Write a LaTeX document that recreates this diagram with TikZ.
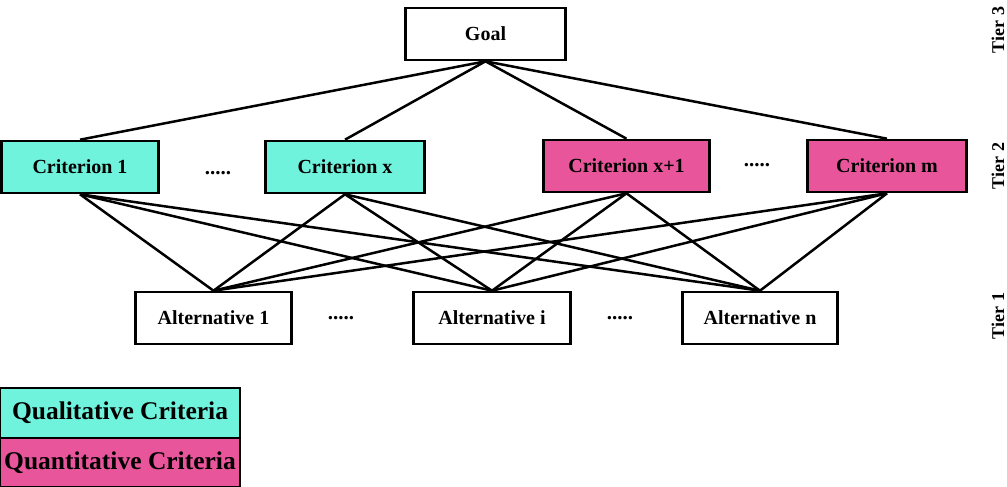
\documentclass[tikz,border=0pt]{standalone}
\usepackage{fontspec}
\setmainfont{Liberation Serif}
\definecolor{qual}{HTML}{70F3DC}
\definecolor{quant}{HTML}{E9559B}
\begin{document}
\begin{tikzpicture}[x=1pt,y=-1pt,
  box/.style={draw=black,line width=2.6pt,minimum height=52pt,inner sep=0pt,font=\fontsize{20}{22}\selectfont\bfseries},
  qualbox/.style={box,fill=qual},
  quantbox/.style={box,fill=quant},
  link/.style={line width=2.5pt},
  dots/.style={font=\fontsize{21}{22}\selectfont\bfseries,inner sep=0pt},
  tier/.style={rotate=90,font=\fontsize{18}{20}\selectfont\bfseries,inner sep=0pt},
  legend/.style={draw=black,line width=2pt,inner sep=0pt,minimum width=240pt,font=\fontsize{25.5}{28}\selectfont\bfseries}]
\useasboundingbox (0,0) rectangle (1007,487);
\node[box,minimum width=160pt] (goal) at (485.5,34) {Goal};
\node[qualbox,minimum width=157pt] (c1) at (80,167) {Criterion 1};
\node[qualbox,minimum width=159pt] (cx) at (345,167) {Criterion x};
\node[quantbox,minimum width=166pt] (cx1) at (626.5,166) {Criterion x+1};
\node[quantbox,minimum width=159pt] (cm) at (887,166) {Criterion m};
\node[dots] (d1) at (218,173) {.....};
\node[dots] (d2) at (757,165) {.....};
\node[box,minimum width=156pt] (a1) at (213.5,318) {Alternative 1};
\node[box,minimum width=157pt] (ai) at (492,318) {Alternative i};
\node[box,minimum width=155pt] (an) at (760,318) {Alternative n};
\node[dots] (d3) at (341,318) {.....};
\node[dots] (d4) at (620,318) {.....};
\foreach \c in {c1,cx,cx1,cm} {\draw[link] (goal.south) -- (\c.north);}
\foreach \c in {c1,cx,cx1,cm} {\foreach \a in {a1,ai,an} {\draw[link] (\c.south) -- (\a.north);}}
\node[tier] (t3) at (998,30) {Tier 3};
\node[tier] (t2) at (998,166) {Tier 2};
\node[tier] (t1) at (998,316) {Tier 1};
\node[legend,fill=qual,minimum height=50pt] (lq) at (120,413) {Qualitative Criteria};
\node[legend,fill=quant,minimum height=49pt] (ln) at (120,462.5) {Quantitative Criteria};
\end{tikzpicture}
\end{document}
